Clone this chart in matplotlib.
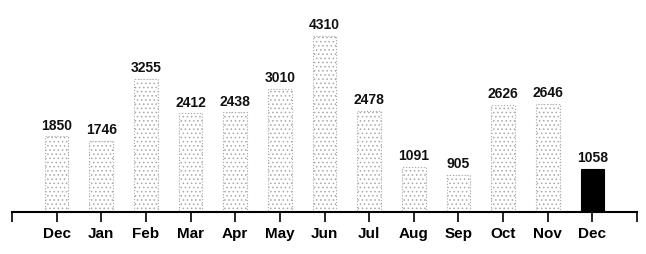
import matplotlib.pyplot as plt
import matplotlib as mpl

months = ['Dec', 'Jan', 'Feb', 'Mar', 'Apr', 'May', 'Jun', 'Jul', 'Aug', 'Sep', 'Oct', 'Nov', 'Dec']
counts = [1850, 1746, 3255, 2412, 2438, 3010, 4310, 2478, 1091, 905, 2626, 2646, 1058]

mpl.rcParams['font.family'] = ['Liberation Sans', 'DejaVu Sans']
mpl.rcParams['hatch.linewidth'] = 0.6

fig = plt.figure(figsize=(6.46, 2.55), dpi=100)
ax = fig.add_axes([0.0186, 0.165, 0.9675, 0.835])

x = list(range(len(months)))
for i, v in enumerate(counts):
    if i == len(counts) - 1:
        ax.bar(i, v, width=0.53, color='black', edgecolor='black', linewidth=0.8)
    else:
        ax.bar(i, v, width=0.53, color='white', edgecolor='#a8a8a8', hatch='....',
               linewidth=0.8, linestyle=':')
    ax.text(i, v + 120, str(v), ha='center', va='bottom', fontsize=10,
            fontweight='bold', color='#111111')

ax.set_xlim(-1, 13)
ax.set_ylim(0, 5216)
ax.set_xticks([-1] + x + [13])
ax.set_xticklabels([''] + months + [''], fontsize=11, fontweight='bold')
ax.tick_params(axis='x', direction='out', length=7, width=1.2, pad=3)
ax.set_yticks([])
for s in ['top', 'right', 'left']:
    ax.spines[s].set_visible(False)
ax.spines['bottom'].set_linewidth(1.5)

fig.savefig('out.png', dpi=100)
